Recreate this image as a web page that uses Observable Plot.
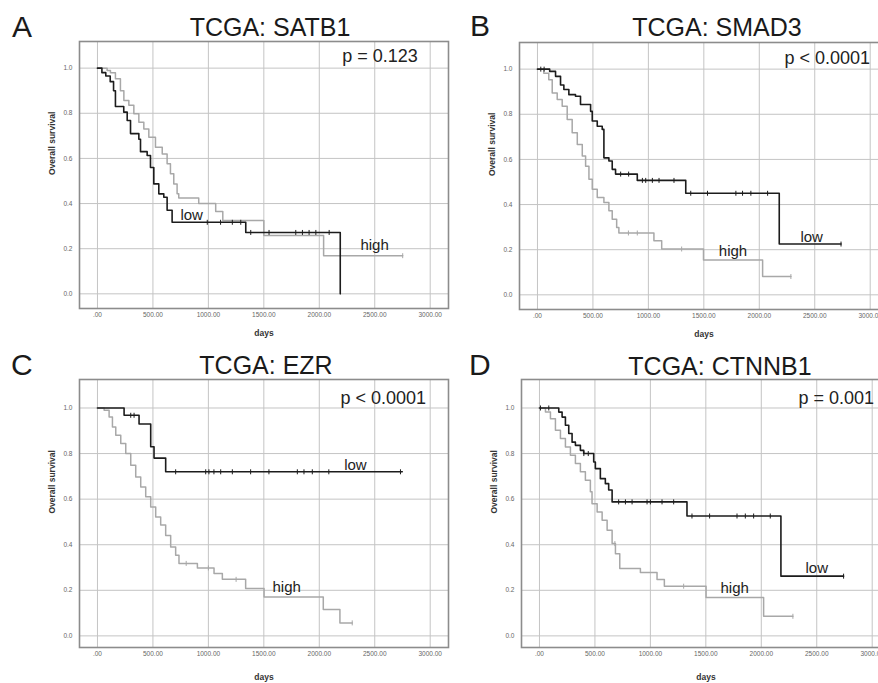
<!DOCTYPE html>
<html><head><meta charset="utf-8">
<script src="https://cdn.jsdelivr.net/npm/d3@7"></script>
<script src="https://cdn.jsdelivr.net/npm/@observablehq/plot@0.6"></script>
<style>
html,body{margin:0;padding:0;background:#fff;}
#root{position:relative;width:878px;height:683px;overflow:hidden;font-family:"Liberation Sans",Arial,sans-serif;}
.lbl{position:absolute;line-height:1;color:#1a1a1a;white-space:nowrap;}
.panel{position:absolute;width:460px;}
.panel svg{max-width:none !important;}
</style></head><body><div id="root"></div>
<script>
// ---- shared axis data ----
const xTickValues = [0, 500, 1000, 1500, 2000, 2500, 3000];
const xTickLabels = [".00", "500.00", "1000.00", "1500.00", "2000.00", "2500.00", "3000.00"];
const yTickValues = [0, 0.2, 0.4, 0.6, 0.8, 1.0];
const yTickLabels = ["0.0", "0.2", "0.4", "0.6", "0.8", "1.0"];
const panelLetters = ["A", "B", "C", "D"];
const genes = ["SATB1", "SMAD3", "EZR", "CTNNB1"];
const pValues = ["p = 0.123", "p < 0.0001", "p < 0.0001", "p = 0.001"];
const groupNames = ["low", "high"];

// ---- A: SATB1 ----
const satb1LowDays = [0, 40, 75, 115, 145, 162, 237, 268, 298, 373, 388, 448, 478, 508, 553, 598, 628, 673, 1337, 2189];
const satb1LowSurv = [1.0, 0.98, 0.965, 0.94, 0.90, 0.83, 0.805, 0.768, 0.71, 0.685, 0.63, 0.613, 0.56, 0.487, 0.443, 0.428, 0.37, 0.317, 0.272, 0.0];
const satb1LowCensor = [990, 1110, 1216, 1292, 1382, 1547, 1788, 1848, 1908, 1969, 2089];
const satb1HighDays = [0, 87, 117, 162, 207, 238, 283, 328, 373, 418, 463, 523, 584, 628, 658, 688, 718, 733, 913, 1066, 1130, 1500, 2039, 2752];
const satb1HighSurv = [1.0, 0.99, 0.98, 0.953, 0.9, 0.857, 0.835, 0.798, 0.76, 0.73, 0.694, 0.65, 0.62, 0.576, 0.532, 0.487, 0.443, 0.425, 0.40, 0.365, 0.325, 0.258, 0.169, 0.169];
const satb1HighCensor = [2752];

// ---- B: SMAD3 ----
const smad3LowDays = [0, 110, 163, 208, 238, 283, 343, 388, 479, 494, 539, 584, 599, 644, 674, 704, 900, 1337, 2180, 2737];
const smad3LowSurv = [1.0, 0.99, 0.968, 0.93, 0.91, 0.887, 0.88, 0.843, 0.813, 0.77, 0.747, 0.733, 0.607, 0.593, 0.556, 0.535, 0.507, 0.45, 0.225, 0.225];
const smad3LowCensor = [30, 60, 750, 822, 946, 976, 1036, 1096, 1231, 1382, 1533, 1789, 1849, 1924, 2075, 2737];
const smad3HighDays = [0, 57, 102, 133, 178, 223, 268, 313, 359, 404, 434, 464, 494, 539, 599, 644, 674, 714, 734, 1050, 1120, 1497, 2030, 2285];
const smad3HighSurv = [1.0, 0.982, 0.953, 0.894, 0.865, 0.835, 0.777, 0.718, 0.666, 0.615, 0.57, 0.512, 0.468, 0.431, 0.409, 0.372, 0.335, 0.298, 0.274, 0.24, 0.203, 0.154, 0.081, 0.081];
const smad3HighCensor = [820, 900, 1300, 2285];

// ---- C: EZR ----
const ezrLowDays = [0, 240, 375, 480, 510, 615, 2748];
const ezrLowSurv = [1.0, 0.968, 0.93, 0.83, 0.78, 0.72, 0.72];
const ezrLowCensor = [300, 330, 705, 976, 1005, 1050, 1111, 1216, 1381, 1546, 1802, 1862, 1937, 2086, 2732];
const ezrHighDays = [0, 60, 105, 135, 165, 210, 255, 300, 345, 390, 435, 480, 525, 570, 615, 660, 705, 735, 901, 1051, 1126, 1336, 1502, 2036, 2186, 2297];
const ezrHighSurv = [1.0, 0.99, 0.96, 0.917, 0.88, 0.844, 0.8, 0.749, 0.697, 0.653, 0.61, 0.566, 0.522, 0.486, 0.44, 0.39, 0.354, 0.318, 0.298, 0.274, 0.248, 0.208, 0.171, 0.116, 0.057, 0.057];
const ezrHighCensor = [800, 1000, 1250, 2297];

// ---- D: CTNNB1 ----
const ctnnb1LowDays = [0, 174, 204, 234, 264, 294, 324, 369, 399, 489, 504, 549, 594, 624, 655, 1330, 2177, 2742];
const ctnnb1LowSurv = [1.0, 0.982, 0.96, 0.924, 0.888, 0.85, 0.836, 0.814, 0.8, 0.763, 0.734, 0.69, 0.668, 0.64, 0.588, 0.526, 0.262, 0.262];
const ctnnb1LowCensor = [9, 84, 400, 440, 714, 775, 835, 970, 1000, 1105, 1210, 1375, 1534, 1781, 1856, 1931, 2081, 2742];
const ctnnb1HighDays = [0, 54, 99, 144, 189, 234, 279, 324, 369, 414, 459, 474, 520, 565, 610, 655, 685, 724, 910, 1060, 1126, 1502, 2021, 2285];
const ctnnb1HighSurv = [1.0, 0.982, 0.953, 0.902, 0.866, 0.829, 0.793, 0.756, 0.72, 0.683, 0.632, 0.58, 0.544, 0.507, 0.463, 0.405, 0.36, 0.296, 0.278, 0.247, 0.218, 0.168, 0.086, 0.086];
const ctnnb1HighCensor = [680, 1300, 2285];

// ---- group label anchor points (days, survival) ----
const labelDaysLow = [748, 2371, 2224, 2399];
const labelSurvLow = [0.325, 0.232, 0.73, 0.274];
const labelDaysHigh = [2371, 1635, 1578, 1632];
const labelSurvHigh = [0.196, 0.173, 0.193, 0.189];

const series = [
  [satb1LowDays, satb1LowSurv, satb1LowCensor, satb1HighDays, satb1HighSurv, satb1HighCensor],
  [smad3LowDays, smad3LowSurv, smad3LowCensor, smad3HighDays, smad3HighSurv, smad3HighCensor],
  [ezrLowDays, ezrLowSurv, ezrLowCensor, ezrHighDays, ezrHighSurv, ezrHighCensor],
  [ctnnb1LowDays, ctnnb1LowSurv, ctnnb1LowCensor, ctnnb1HighDays, ctnnb1HighSurv, ctnnb1HighCensor]
];

// ---- layout (pixels) ----
const layout = [
  {left: 0,   top: 36,    frameH: 267, mb: 40, yDomain: [-0.065, 1.118], pdx: 262.7, pdy: 20.7, daysDy: 25,   tcx: 270, ttop: 14.8,  lx: 12,  ltop: 11.6},
  {left: 440, top: 36.5,  frameH: 267, mb: 40, yDomain: [-0.065, 1.118], pdx: 265,   pdy: 21.5, daysDy: 25,   tcx: 717, ttop: 14.8,  lx: 470, ltop: 10.8},
  {left: 0,   top: 374.3, frameH: 268, mb: 36, yDomain: [-0.051, 1.125], pdx: 261,   pdy: 24,   daysDy: 29.4, tcx: 266, ttop: 352.8, lx: 11,  ltop: 349.6},
  {left: 442, top: 374.3, frameH: 268, mb: 36, yDomain: [-0.051, 1.125], pdx: 277,   pdy: 24,   daysDy: 29.4, tcx: 720, ttop: 353.8, lx: 469, ltop: 349.6}
];
const ML = 79, MT = 5, FW = 369, MR = 12;
const LOW = "#1c1c1c", HIGH = "#a8a8a8";

function table(days, surv) { return days.map((d, i) => ({day: d, surv: surv[i]})); }
function survAt(days, surv, t) { let s = surv[0]; for (let i = 0; i < days.length; i++) if (days[i] <= t) s = surv[i]; return s; }
function censorTable(days, surv, cens) { return cens.map(t => ({day: t, surv: survAt(days, surv, t)})); }

const root = document.getElementById("root");

series.forEach((s, k) => {
  const L = layout[k];
  const [ld, ls, lc, hd, hs, hc] = s;
  const low = table(ld, ls), high = table(hd, hs);
  const lowC = censorTable(ld, ls, lc), highC = censorTable(hd, hs, hc);
  const labels = [
    {day: labelDaysLow[k], surv: labelSurvLow[k], text: groupNames[0]},
    {day: labelDaysHigh[k], surv: labelSurvHigh[k], text: groupNames[1]}
  ];
  const cenH = 0.011;
  const W = ML + FW + MR;
  const chart = Plot.plot({
    width: W,
    height: MT + L.frameH + L.mb,
    marginLeft: ML, marginRight: MR, marginTop: MT, marginBottom: L.mb,
    style: {background: "transparent", fontFamily: "'Liberation Sans', Arial, sans-serif", overflow: "visible", maxWidth: "none", width: W + "px"},
    x: {domain: [-162, 3165]},
    y: {domain: L.yDomain},
    marks: [
      Plot.gridX({ticks: xTickValues, stroke: "#c4c4c4", strokeOpacity: 1, strokeWidth: 1}),
      Plot.gridY({ticks: yTickValues, stroke: "#c4c4c4", strokeOpacity: 1, strokeWidth: 1}),
      Plot.frame({stroke: "#8c8c8c", strokeWidth: 1.6}),
      Plot.axisX({ticks: xTickValues, tickFormat: d => xTickLabels[xTickValues.indexOf(d)], tickSize: 0, tickPadding: 4, fontSize: 6.5, fill: "#666", label: null}),
      Plot.axisY({ticks: yTickValues, tickFormat: d => yTickLabels[yTickValues.indexOf(d)], tickSize: 0, tickPadding: 7, fontSize: 6.5, fill: "#666", label: null}),
      Plot.line(high, {x: "day", y: "surv", curve: "step-after", stroke: HIGH, strokeWidth: 1.5}),
      Plot.link(highC, {x1: "day", x2: "day", y1: d => d.surv - cenH, y2: d => d.surv + cenH, stroke: HIGH, strokeWidth: 1}),
      Plot.line(low, {x: "day", y: "surv", curve: "step-after", stroke: LOW, strokeWidth: 1.6}),
      Plot.link(lowC, {x1: "day", x2: "day", y1: d => d.surv - cenH, y2: d => d.surv + cenH, stroke: LOW, strokeWidth: 1}),
      Plot.text(labels, {x: "day", y: "surv", text: "text", textAnchor: "start", lineAnchor: "bottom", fontSize: 15, fill: "#222"}),
      Plot.text([pValues[k]], {frameAnchor: "top-left", dx: L.pdx, dy: L.pdy, textAnchor: "start", lineAnchor: "bottom", fontSize: 18, fill: "#222"}),
      Plot.text(["Overall survival"], {frameAnchor: "left", dx: -27, rotate: -90, fontWeight: "bold", fontSize: 8.5, fill: "#333"}),
      Plot.text(["days"], {frameAnchor: "bottom", dy: L.daysDy, lineAnchor: "middle", fontWeight: "bold", fontSize: 8.5, fill: "#333"})
    ]
  });
  const wrap = document.createElement("div");
  wrap.className = "panel";
  wrap.style.left = L.left + "px";
  wrap.style.top = L.top + "px";
  wrap.appendChild(chart);
  root.appendChild(wrap);

  const title = document.createElement("div");
  title.className = "lbl";
  title.style.fontSize = "25px";
  title.style.left = L.tcx + "px";
  title.style.top = L.ttop + "px";
  title.style.transform = "translateX(-50%)";
  title.textContent = "TCGA: " + genes[k];
  root.appendChild(title);

  const letter = document.createElement("div");
  letter.className = "lbl";
  letter.style.fontSize = "30px";
  letter.style.left = L.lx + "px";
  letter.style.top = L.ltop + "px";
  letter.textContent = panelLetters[k];
  root.appendChild(letter);
});
</script></body></html>
